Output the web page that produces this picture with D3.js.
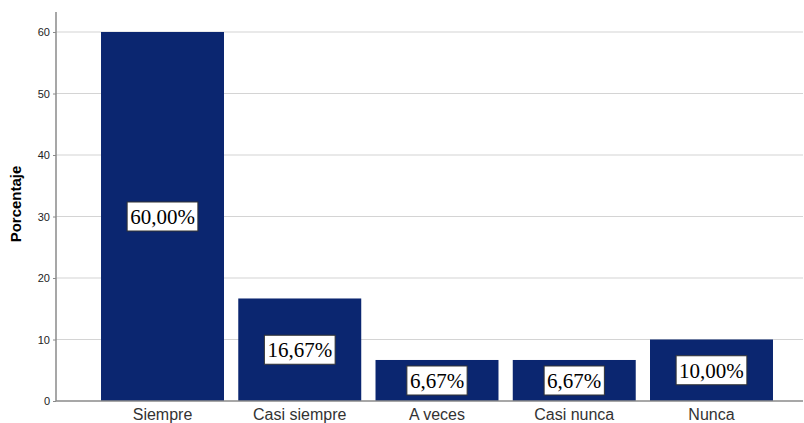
<!DOCTYPE html>
<html>
<head>
<meta charset="utf-8">
<script src="https://cdn.jsdelivr.net/npm/d3@7"></script>
<style>
  html, body { margin: 0; padding: 0; background: #fff; }
  svg { display: block; }
</style>
</head>
<body>
<svg id="chart" width="804" height="423"></svg>
<script>
// Frequency of responses, in percent
const categories = ["Siempre", "Casi siempre", "A veces", "Casi nunca", "Nunca"];
const percentages = [60.00, 16.67, 6.67, 6.67, 10.00];
const yTicks = [0, 10, 20, 30, 40, 50, 60];
const yTitle = "Porcentaje";

const svg = d3.select("#chart");
const plotLeft = 56, bandRight = 818, plotRight = 803, plotTop = 12, plotBottom = 401;

const x = d3.scaleBand()
  .domain(categories)
  .range([plotLeft, bandRight])
  .paddingInner(0.104)
  .paddingOuter(0.328);

const y = d3.scaleLinear()
  .domain([0, 60])
  .range([plotBottom, 32]);

// Horizontal gridlines
svg.append("g")
  .selectAll("line")
  .data(yTicks.filter(d => d > 0))
  .join("line")
  .attr("x1", plotLeft).attr("x2", plotRight)
  .attr("y1", d => y(d)).attr("y2", d => y(d))
  .attr("stroke", "#d4d4d4").attr("stroke-width", 1.2);

// Bars
svg.append("g")
  .selectAll("rect")
  .data(percentages)
  .join("rect")
  .attr("x", (d, i) => x(categories[i]))
  .attr("width", x.bandwidth())
  .attr("y", d => y(d))
  .attr("height", d => y(0) - y(d))
  .attr("fill", "#0b2670");

// Y axis
const yAxis = svg.append("g")
  .attr("transform", `translate(${plotLeft},0)`)
  .call(d3.axisLeft(y).tickValues(yTicks).tickSize(3).tickFormat(d3.format("d")));
yAxis.select(".domain").attr("d", `M0,${plotTop}V${plotBottom}`).attr("stroke", "#8a8a8a").attr("stroke-width", 1.5);
yAxis.selectAll(".tick line").attr("stroke", "#8a8a8a");
yAxis.selectAll(".tick text")
  .attr("x", -6)
  .attr("fill", "#222")
  .style("font-family", "'Liberation Sans', Arial, sans-serif")
  .style("font-size", "11px");

// X axis baseline and category labels
svg.append("line")
  .attr("x1", plotLeft).attr("x2", plotRight)
  .attr("y1", plotBottom).attr("y2", plotBottom)
  .attr("stroke", "#8a8a8a").attr("stroke-width", 1.5);

svg.append("g")
  .selectAll("text")
  .data(categories)
  .join("text")
  .attr("x", d => x(d) + x.bandwidth() / 2)
  .attr("y", 420)
  .attr("text-anchor", "middle")
  .attr("fill", "#333")
  .style("font-family", "'Liberation Sans', Arial, sans-serif")
  .style("font-size", "16px")
  .text(d => d);

// Axis title
svg.append("text")
  .attr("transform", `translate(21,204) rotate(-90)`)
  .attr("text-anchor", "middle")
  .attr("fill", "#000")
  .style("font-family", "'Liberation Sans', Arial, sans-serif")
  .style("font-size", "15px")
  .style("font-weight", "bold")
  .text(yTitle);

// Value labels in boxes at bar mid-height
const fmt = v => v.toFixed(2).replace(".", ",") + "%";
const labels = svg.append("g")
  .selectAll("g")
  .data(percentages)
  .join("g")
  .attr("transform", (d, i) => `translate(${x(categories[i]) + x.bandwidth() / 2},${y(d / 2)})`);

labels.append("text")
  .attr("text-anchor", "middle")
  .attr("dy", "0.35em")
  .attr("fill", "#000")
  .style("font-family", "'Liberation Serif', 'Times New Roman', serif")
  .style("font-size", "21px")
  .text(d => fmt(d));

labels.each(function() {
  const g = d3.select(this);
  const bb = g.select("text").node().getBBox();
  g.insert("rect", "text")
    .attr("x", bb.x - 3)
    .attr("y", -14.5)
    .attr("width", bb.width + 6)
    .attr("height", 29)
    .attr("fill", "#fff")
    .attr("stroke", "#333")
    .attr("stroke-width", 1);
});
</script>
</body>
</html>
